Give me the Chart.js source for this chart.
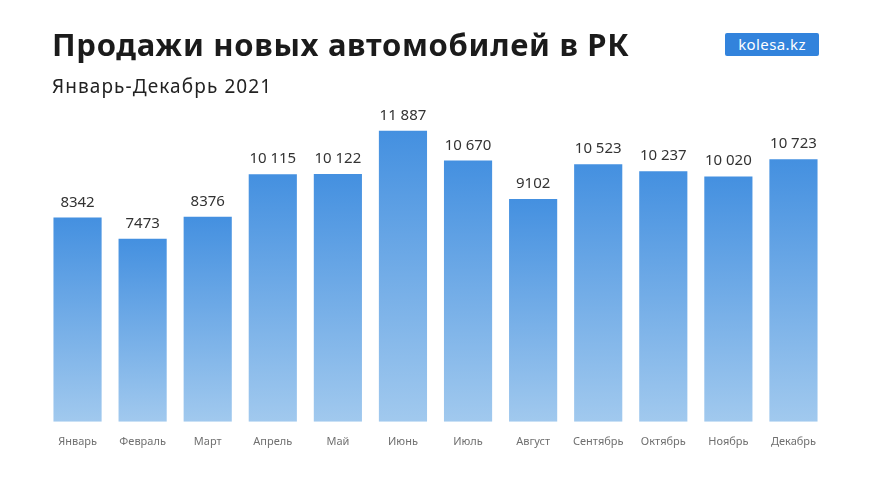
<!DOCTYPE html>
<html>
<head>
<meta charset="utf-8">
<script src="https://cdn.jsdelivr.net/npm/chart.js@4"></script>
<style>
  body { margin: 0; background: #fff; font-family: "Noto Sans", sans-serif; }
  #wrap { position: relative; width: 872px; height: 491px; }
  #title { position: absolute; left: 52px; top: 23px; font-size: 31px; font-weight: 700; letter-spacing: 0.7px; color: #1b1b1b; white-space: nowrap; }
  #sub { position: absolute; left: 52px; top: 73px; font-size: 19px; letter-spacing: 1.1px; color: #222; white-space: nowrap; }
  #logo { position: absolute; left: 725px; top: 33px; width: 94px; height: 23px; background: #3283dc; border-radius: 2px;
          color: #fff; font-size: 15px; letter-spacing: 0.4px; line-height: 23px; text-align: center; }
  #cv { position: absolute; left: 0; top: 0; }
</style>
</head>
<body>
<div id="wrap">
  <canvas id="cv" width="872" height="491"></canvas>
  <div id="title">Продажи новых автомобилей в РК</div>
  <div id="sub">Январь-Декабрь 2021</div>
  <div id="logo">kolesa.kz</div>
</div>
<script>
  var months = ["Январь", "Февраль", "Март", "Апрель", "Май", "Июнь", "Июль", "Август", "Сентябрь", "Октябрь", "Ноябрь", "Декабрь"];
  var sales = [8342, 7473, 8376, 10115, 10122, 11887, 10670, 9102, 10523, 10237, 10020, 10723];

  // 10 115 style, but 8342 without a space
  function fmt(v) {
    var s = String(v);
    if (s.length < 5) return s;
    return s.slice(0, s.length - 3) + " " + s.slice(-3);
  }

  function barColor(c) {
    var chart = c.chart;
    if (!chart.chartArea || c.dataIndex === undefined) return "#5f9fe4";
    var y = chart.scales.y;
    var top = y.getPixelForValue(sales[c.dataIndex]);
    var bottom = y.getPixelForValue(0);
    var g = chart.ctx.createLinearGradient(0, top, 0, bottom);
    g.addColorStop(0, "#4490e0");
    g.addColorStop(1, "#a1c9ee");
    return g;
  }

  var valueLabels = {
    id: "valueLabels",
    afterDatasetsDraw: function (chart) {
      var ctx = chart.ctx;
      var meta = chart.getDatasetMeta(0);
      ctx.save();
      ctx.font = "15px 'Noto Sans', sans-serif";
      ctx.fillStyle = "#333";
      ctx.textAlign = "center";
      ctx.textBaseline = "alphabetic";
      meta.data.forEach(function (bar, i) {
        ctx.fillText(fmt(sales[i]), bar.x, bar.y - 11);
      });
      ctx.restore();
    }
  };

  var chart = new Chart(document.getElementById("cv"), {
    type: "bar",
    data: {
      labels: months,
      datasets: [{
        data: sales,
        backgroundColor: barColor,
        borderWidth: 0,
        barPercentage: 0.74,
        categoryPercentage: 1
      }]
    },
    options: {
      responsive: false,
      animation: false,
      layout: { padding: { top: 79, left: 45, right: 46, bottom: 38 } },
      plugins: { legend: { display: false }, tooltip: { enabled: false } },
      scales: {
        y: { display: false, min: 0, max: 14000 },
        x: {
          grid: { display: false },
          border: { display: false },
          ticks: { color: "#707070", font: { size: 11, family: "'Noto Sans', sans-serif" }, padding: 5, maxRotation: 0 }
        }
      }
    },
    plugins: [valueLabels]
  });
</script>
</body>
</html>
